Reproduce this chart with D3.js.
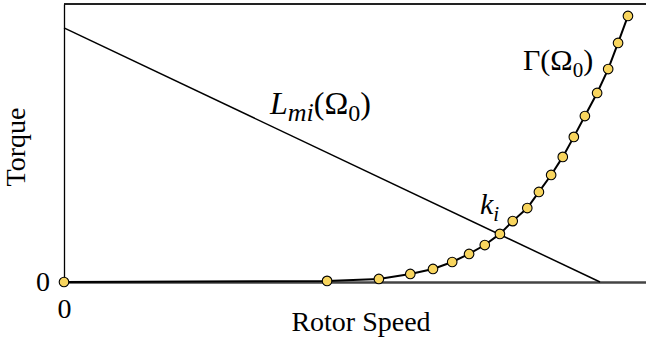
<!DOCTYPE html>
<html>
<head>
<meta charset="utf-8">
<script src="https://cdn.jsdelivr.net/npm/d3@7"></script>
<style>
  html, body { margin: 0; padding: 0; background: #fff; }
  svg { display: block; }
  svg text, svg tspan { font-family: "Liberation Serif", serif !important; fill: #000; }
</style>
</head>
<body>
<svg id="chart" width="646" height="344"></svg>
<script>
// Rotor speed (x) and torque (y) in arbitrary units 0..100
const speed  = [0, 45.2, 54.1, 59.5, 63.4, 66.7, 69.6, 72.3, 74.9, 77.1, 79.6, 81.6, 83.7, 85.7, 87.6, 89.5, 91.6, 93.5, 95.2, 96.9];
const torque = [0, 0.4, 1.1, 2.9, 4.7, 7.2, 10.1, 13.3, 17.3, 21.9, 26.6, 32.4, 38.5, 45.0, 52.2, 59.7, 68.0, 76.6, 86.0, 95.7];
// Load line L_mi(Ω0): from (0, 91.4) to (92.1, 0)
const loadSpeed  = [0, 92.1];
const loadTorque = [91.4, 0];
const xTicks = [0];
const yTicks = [0];

const FONT = "Liberation Serif";
const svg = d3.select("#chart");
const x = d3.scaleLinear().domain([0, 100]).range([64, 646]);
const y = d3.scaleLinear().domain([0, 100]).range([282, 4]);

// top frame line
svg.append("line")
  .attr("x1", x(0)).attr("x2", x(100))
  .attr("y1", y(100)).attr("y2", y(100))
  .attr("stroke", "#222").attr("stroke-width", 2);

// left axis
const yAxis = svg.append("g").attr("transform", `translate(${x(0)},0)`)
  .call(d3.axisLeft(y).tickValues(yTicks).tickSize(0).tickSizeOuter(0).tickPadding(14));
yAxis.attr("font-family", FONT);
yAxis.select(".domain").attr("stroke", "#000").attr("stroke-width", 1.3);
yAxis.selectAll("text").attr("font-size", 28).attr("font-family", FONT);

// bottom axis
const xAxis = svg.append("g").attr("transform", `translate(0,${y(0)})`)
  .call(d3.axisBottom(x).tickValues(xTicks).tickSize(0).tickSizeOuter(0).tickPadding(16));
xAxis.attr("font-family", FONT);
xAxis.select(".domain").attr("stroke", "#444").attr("stroke-width", 2.5);
xAxis.selectAll("text").attr("font-size", 28).attr("font-family", FONT);

// load line
const load = loadSpeed.map((s, i) => [s, loadTorque[i]]);
svg.append("path")
  .datum(load)
  .attr("d", d3.line().x(d => x(d[0])).y(d => y(d[1])))
  .attr("fill", "none").attr("stroke", "#000").attr("stroke-width", 1.5);

// generator torque curve
const pts = speed.map((s, i) => [s, torque[i]]);
svg.append("path")
  .datum(pts)
  .attr("d", d3.line().x(d => x(d[0])).y(d => y(d[1])))
  .attr("fill", "none").attr("stroke", "#000").attr("stroke-width", 2);

svg.append("g").selectAll("circle")
  .data(pts).join("circle")
  .attr("cx", d => x(d[0])).attr("cy", d => y(d[1]))
  .attr("r", 4.8)
  .attr("fill", "#f8d55e").attr("stroke", "#000").attr("stroke-width", 1.1);

// axis titles
svg.append("text")
  .attr("x", 361).attr("y", 331)
  .attr("text-anchor", "middle").attr("font-size", 28).attr("font-family", FONT)
  .text("Rotor Speed");
svg.append("text")
  .attr("transform", "translate(25,147) rotate(-90)")
  .attr("text-anchor", "middle").attr("font-size", 28).attr("font-family", FONT)
  .text("Torque");

// math labels
function mathLabel(xp, yp, size, parts) {
  const t = svg.append("text").attr("x", xp).attr("y", yp)
    .attr("font-size", size).attr("font-family", FONT);
  parts.forEach(p => {
    const ts = t.append("tspan").text(p.t).attr("font-family", FONT);
    if (p.i) ts.attr("font-style", "italic");
    if (p.sub) ts.attr("font-size", Math.round(size * (p.scale || 0.7))).attr("dy", 7);
    if (p.up) ts.attr("dy", -7);
  });
  return t;
}
mathLabel(270, 114, 32, [{t: "L", i: true}, {t: "mi", i: true, sub: true, scale: 0.8}, {t: "(Ω", up: true}, {t: "0", sub: true, scale: 0.75}, {t: ")", up: true}]);
mathLabel(523, 70, 30, [{t: "Γ(Ω"}, {t: "0", sub: true}, {t: ")", up: true}]);
mathLabel(480, 214, 30, [{t: "k", i: true}, {t: "i", i: true, sub: true}]);
</script>
</body>
</html>
